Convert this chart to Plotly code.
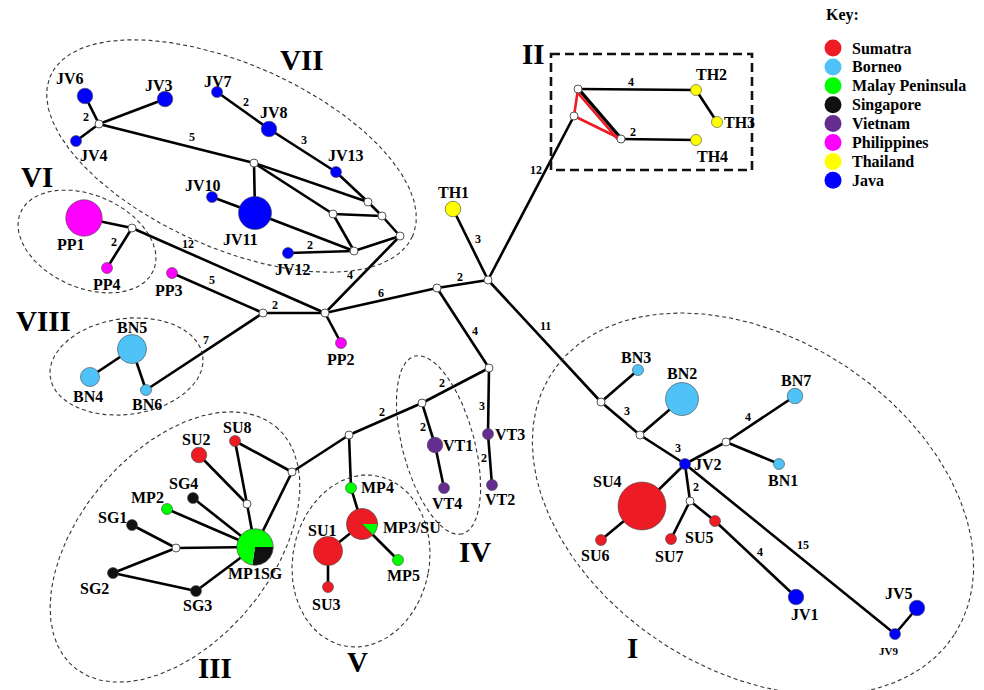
import numpy as np
import plotly.graph_objects as go

# ---------------- data ----------------
regions = ["Sumatra", "Borneo", "Malay Peninsula", "Singapore",
           "Vietnam", "Philippines", "Thailand", "Java"]
region_colors = ["#ED1C24", "#4FC3F7", "#00FF00", "#111111",
                 "#662D91", "#FF00FF", "#FFFF00", "#0000FF"]

# single-region haplotypes: name, region, frequency
hap_names = ["JV6", "JV3", "JV4", "JV7", "JV8", "JV13", "JV10", "JV11", "JV12",
             "PP1", "PP4", "PP3", "PP2", "BN5", "BN4", "BN6",
             "TH1", "TH2", "TH3", "TH4", "VT1", "VT4", "VT3", "VT2",
             "SU8", "SU2", "SG4", "MP2", "SG1", "SG2", "SG3",
             "MP4", "SU1", "SU3", "MP5",
             "BN3", "BN2", "JV2", "BN7", "BN1", "SU4", "SU6", "SU7", "SU5",
             "JV1", "JV9", "JV5"]
hap_region = ["Java", "Java", "Java", "Java", "Java", "Java", "Java", "Java", "Java",
              "Philippines", "Philippines", "Philippines", "Philippines",
              "Borneo", "Borneo", "Borneo",
              "Thailand", "Thailand", "Thailand", "Thailand",
              "Vietnam", "Vietnam", "Vietnam", "Vietnam",
              "Sumatra", "Sumatra", "Singapore", "Malay Peninsula", "Singapore",
              "Singapore", "Singapore",
              "Malay Peninsula", "Sumatra", "Sumatra", "Malay Peninsula",
              "Borneo", "Borneo", "Java", "Borneo", "Borneo", "Sumatra", "Sumatra",
              "Sumatra", "Sumatra", "Java", "Java", "Java"]
hap_count = [2, 2, 1, 1, 2, 1, 1, 9, 1,
             11, 1, 1, 1, 7, 3, 1,
             2, 1, 1, 1, 2, 1, 1, 1,
             1, 2, 1, 1, 1, 1, 1,
             1, 7, 1, 1,
             1, 9, 1, 2, 1, 19, 1, 1, 1,
             2, 1, 2]

# shared haplotypes (pie nodes): name, composition
pie_names = ["MP1SG", "MP3/SU"]
pie_regions = [["Singapore", "Malay Peninsula"], ["Malay Peninsula", "Sumatra"]]
pie_counts = [[3, 8], [1, 7]]

# median vectors
mv_names = ["A", "B", "C", "D", "E", "F", "G", "H", "I", "J", "K", "R", "L", "M",
            "N", "O", "P", "Q", "S1", "S2", "S3", "T", "U", "V", "W"]

# network edges and mutational steps ("" = single step)
edges = [("JV6", "A", "2"), ("JV4", "A", ""), ("JV3", "A", ""), ("A", "B", "5"),
         ("B", "JV11", ""), ("B", "C", ""), ("B", "D", ""), ("JV7", "JV8", "2"),
         ("JV8", "JV13", "3"), ("JV13", "C", ""), ("C", "E", ""), ("E", "F", ""),
         ("D", "E", ""), ("D", "G", ""), ("JV11", "G", ""), ("JV10", "JV11", ""),
         ("JV12", "G", "2"), ("G", "F", ""), ("F", "I", "4"), ("PP1", "H", ""),
         ("H", "PP4", "2"), ("H", "I", "12"), ("PP3", "J", "5"), ("J", "I", "2"),
         ("J", "BN6", "7"), ("BN5", "BN4", ""), ("BN5", "BN6", ""), ("I", "PP2", ""),
         ("I", "K", "6"), ("K", "R", "2"), ("K", "L", "4"), ("R", "TH1", "3"),
         ("R", "S1", "12"), ("S2", "TH2", "4"), ("TH2", "TH3", ""), ("S3", "TH4", "2"),
         ("R", "T", "11"), ("L", "M", "2"), ("M", "VT1", "2"), ("VT1", "VT4", ""),
         ("L", "VT3", "3"), ("VT3", "VT2", "2"), ("M", "N", "2"), ("N", "O", ""),
         ("N", "MP4", ""), ("MP4", "MP3/SU", ""), ("MP3/SU", "SU1", ""),
         ("SU1", "SU3", ""), ("MP3/SU", "MP5", ""), ("O", "SU8", ""),
         ("O", "MP1SG", ""), ("SU8", "P", ""), ("SU2", "P", ""), ("P", "MP1SG", ""),
         ("SG4", "MP1SG", ""), ("MP2", "MP1SG", ""), ("Q", "MP1SG", ""),
         ("SG1", "Q", ""), ("SG2", "Q", ""), ("SG2", "SG3", ""), ("SG3", "MP1SG", ""),
         ("T", "BN3", ""), ("T", "U", "3"), ("U", "BN2", ""), ("U", "JV2", "3"),
         ("JV2", "V", ""), ("V", "BN7", "4"), ("V", "BN1", ""), ("JV2", "SU4", ""),
         ("SU4", "SU6", ""), ("JV2", "W", "2"), ("W", "SU7", ""), ("W", "SU5", ""),
         ("SU5", "JV1", "4"), ("JV2", "JV9", "15"), ("JV9", "JV5", "")]
red_edges = [("S2", "S1"), ("S1", "S3"), ("S2", "S3")]
black_extra = [("S2", "S3")]

clade_names = ["VII", "VI", "VIII", "II", "III", "V", "IV", "I"]

# ---------------- layout (drawing positions, px) ----------------
pos = {
    "JV6": (85, 96), "JV3": (165, 99), "JV4": (76, 141), "JV7": (217, 92),
    "JV8": (269, 129), "JV13": (336, 172), "JV10": (212, 197), "JV11": (255, 213),
    "JV12": (288, 253), "PP1": (84, 218), "PP4": (107, 268), "PP3": (172, 273),
    "PP2": (341, 343), "BN5": (132, 349), "BN4": (90, 377), "BN6": (146, 390),
    "TH1": (453, 209), "TH2": (696, 90), "TH3": (717, 122), "TH4": (696, 140),
    "VT1": (435, 445), "VT4": (444, 488), "VT3": (488, 434), "VT2": (492, 485),
    "SU8": (235, 441), "SU2": (199, 455), "SG4": (193, 498), "MP2": (167, 509),
    "SG1": (132, 525), "SG2": (113, 573), "SG3": (196, 591), "MP4": (351, 488),
    "SU1": (328, 551), "SU3": (328, 587), "MP5": (398, 560), "BN3": (638, 370),
    "BN2": (682, 399), "JV2": (685, 464), "BN7": (795, 396), "BN1": (779, 464),
    "SU4": (642, 506), "SU6": (601, 540), "SU7": (671, 539), "SU5": (715, 521),
    "JV1": (796, 597), "JV9": (895, 634), "JV5": (917, 608),
    "MP1SG": (255, 547), "MP3/SU": (362, 524),
    "A": (99, 124), "B": (254, 163), "C": (368, 202), "D": (333, 214),
    "E": (382, 216), "F": (400, 236), "G": (354, 251), "H": (132, 228),
    "I": (325, 313), "J": (263, 313), "K": (437, 288), "R": (488, 280),
    "L": (489, 368), "M": (422, 403), "N": (349, 435), "O": (292, 472),
    "P": (247, 504), "Q": (176, 548), "S1": (574, 116), "S2": (578, 89),
    "S3": (621, 139), "T": (601, 402), "U": (640, 435), "V": (726, 442),
    "W": (690, 501),
}
label_pos = {
    "JV6": (70, 78), "JV3": (159, 85), "JV4": (94, 155), "JV7": (218, 81),
    "JV8": (274, 112), "JV13": (346, 155), "JV10": (203, 185), "JV11": (240, 239),
    "JV12": (293, 269), "PP1": (71, 244), "PP4": (107, 284), "PP3": (169, 290),
    "PP2": (341, 359), "BN5": (132, 327), "BN4": (88, 396), "BN6": (147, 404),
    "TH1": (453, 192), "TH2": (711, 74), "TH3": (739, 122), "TH4": (712, 156),
    "VT1": (458, 445), "VT4": (447, 503), "VT3": (510, 434), "VT2": (500, 499),
    "SU8": (237, 427), "SU2": (196, 439), "SG4": (183, 483), "MP2": (147, 497),
    "SG1": (112, 517), "MP1SG": (255, 573), "SG2": (94, 588), "SG3": (197, 605),
    "MP4": (377, 487), "MP3/SU": (412, 527), "SU1": (322, 530), "SU3": (326, 604),
    "MP5": (403, 575), "BN3": (636, 357), "BN2": (682, 373), "JV2": (708, 464),
    "BN7": (796, 380), "BN1": (783, 480), "SU4": (607, 481), "SU6": (595, 555),
    "SU7": (669, 556), "SU5": (699, 537), "JV1": (805, 614), "JV9": (888, 651),
    "JV5": (899, 593),
}
edge_label_pos = {
    ("JV6", "A"): (86, 117), ("A", "B"): (192, 137), ("JV7", "JV8"): (246, 102),
    ("JV8", "JV13"): (304, 140), ("JV12", "G"): (310, 245), ("H", "PP4"): (114, 242),
    ("H", "I"): (188, 244), ("PP3", "J"): (212, 280), ("F", "I"): (350, 275),
    ("I", "K"): (381, 293), ("J", "I"): (275, 305), ("J", "BN6"): (206, 340),
    ("K", "L"): (475, 331), ("R", "TH1"): (478, 239), ("K", "R"): (460, 277),
    ("R", "S1"): (536, 170), ("S2", "TH2"): (631, 82), ("S3", "TH4"): (633, 132),
    ("R", "T"): (545, 326), ("L", "M"): (442, 383), ("M", "N"): (382, 412),
    ("M", "VT1"): (423, 427), ("L", "VT3"): (482, 406), ("VT3", "VT2"): (484, 458),
    ("T", "U"): (627, 411), ("U", "JV2"): (678, 448), ("V", "BN7"): (748, 417),
    ("JV2", "W"): (696, 487), ("SU5", "JV1"): (760, 552), ("JV2", "JV9"): (803, 545),
}
# clade ellipses: centre x, centre y, semi-axis a, semi-axis b, rotation (deg)
ellipses = {
    "VII": (231.5, 156, 198, 92, 23.9), "VI": (87, 241.5, 72.5, 46.4, 23.6),
    "VIII": (126.5, 366.5, 77, 48, -7.7), "III": (175, 547, 157, 96, -50),
    "V": (361, 561, 68.3, 86.6, 10.7), "IV": (438.5, 445, 92, 36, 75),
    "I": (753, 504, 240, 166, 33),
}
clade_label_pos = {"VII": (302, 60), "VI": (37, 177), "VIII": (43, 321), "II": (533, 54),
                   "III": (215, 668), "V": (357, 662), "IV": (475, 552), "I": (632, 648)}
box_II = (551, 54, 752, 170)

SERIF = "Liberation Serif, Times New Roman, serif"
color_of = dict(zip(regions, region_colors))


def radius(n):
    return 5.5 * np.sqrt(n)


fig = go.Figure()

# edges
ex, ey = [], []
for a, b, _ in edges + [(p, q, "") for p, q in black_extra]:
    ex += [pos[a][0], pos[b][0], None]
    ey += [pos[a][1], pos[b][1], None]
rx, ry = [], []
for a, b in red_edges:
    off = (-1.8, 1.8) if (a, b) == ("S2", "S3") else (0, 0)
    rx += [pos[a][0] + off[0], pos[b][0] + off[0], None]
    ry += [pos[a][1] + off[1], pos[b][1] + off[1], None]
fig.add_trace(go.Scatter(x=ex, y=ey, mode="lines", line=dict(color="black", width=2.6),
                         hoverinfo="skip"))
fig.add_trace(go.Scatter(x=rx, y=ry, mode="lines", line=dict(color="#ED1C24", width=2.6),
                         hoverinfo="skip"))
# re-draw black S2-S3 on top of red
fig.add_trace(go.Scatter(x=[pos["S2"][0] + 0.8, pos["S3"][0] + 0.8],
                         y=[pos["S2"][1] - 0.5, pos["S3"][1] - 0.5], mode="lines",
                         line=dict(color="black", width=2.2), hoverinfo="skip"))

# ellipses
t = np.linspace(0, 2 * np.pi, 400)
for name, (cx, cy, a, b, th) in ellipses.items():
    r = np.radians(th)
    xs = cx + a * np.cos(t) * np.cos(r) - b * np.sin(t) * np.sin(r)
    ys = cy + a * np.cos(t) * np.sin(r) + b * np.sin(t) * np.cos(r)
    fig.add_trace(go.Scatter(x=xs, y=ys, mode="lines",
                             line=dict(color="#333333", width=1.1, dash="4px,3px"),
                             hoverinfo="skip"))

# box II
fig.add_shape(type="rect", x0=box_II[0], y0=box_II[1], x1=box_II[2], y1=box_II[3],
              line=dict(color="#111111", width=2.6, dash="9px,5px"))

# median vectors
fig.add_trace(go.Scatter(x=[pos[m][0] for m in mv_names], y=[pos[m][1] for m in mv_names],
                         mode="markers",
                         marker=dict(size=8, color="white", opacity=1,
                                     line=dict(color="#555555", width=1)),
                         hoverinfo="skip"))

# haplotype circles
fig.add_trace(go.Scatter(
    x=[pos[h][0] for h in hap_names], y=[pos[h][1] for h in hap_names], mode="markers",
    marker=dict(size=[2 * radius(n) for n in hap_count],
                color=[color_of[r] for r in hap_region], opacity=1,
                line=dict(color="#444444", width=0.6)),
    text=hap_names, hoverinfo="text"))

# pie haplotypes
for name, regs, cnts in zip(pie_names, pie_regions, pie_counts):
    cx, cy = pos[name]
    R = radius(sum(cnts))
    start = 0.0
    tot = float(sum(cnts))
    for reg, c in zip(regs, cnts):
        span = 2 * np.pi * c / tot
        ang = np.linspace(start, start + span, 80)
        xs = np.concatenate([[cx], cx + R * np.cos(ang), [cx]])
        ys = np.concatenate([[cy], cy + R * np.sin(ang), [cy]])
        fig.add_trace(go.Scatter(x=xs, y=ys, mode="lines", fill="toself",
                                 fillcolor=color_of[reg], line=dict(width=0, color=color_of[reg]),
                                 hoverinfo="skip"))
        start += span
    ang = np.linspace(0, 2 * np.pi, 160)
    fig.add_trace(go.Scatter(x=cx + R * np.cos(ang), y=cy + R * np.sin(ang), mode="lines",
                             line=dict(color="#444444", width=0.7), hoverinfo="skip"))

# legend (key)
key_x, key_y0, key_dy = 833, 48, 18.9
fig.add_trace(go.Scatter(x=[key_x] * len(regions),
                         y=[key_y0 + i * key_dy for i in range(len(regions))],
                         mode="markers", marker=dict(size=17, color=region_colors, opacity=1,
                                                     line=dict(width=0)),
                         hoverinfo="skip"))

ann = []


def add_text(x, y, s, size, anchor="center", weight="bold"):
    ann.append(dict(x=x, y=y, text=s, showarrow=False, xanchor=anchor, yanchor="middle",
                    font=dict(family=SERIF, size=size, color="black", weight=weight)))


add_text(842, 15, "Key:", 16)
for i, r in enumerate(regions):
    add_text(850, key_y0 + i * key_dy, r, 16, anchor="left")
for h, (x, y) in label_pos.items():
    add_text(x, y, h, 11 if h == "JV9" else 16)
for (a, b), (x, y) in edge_label_pos.items():
    lab = [e[2] for e in edges if e[0] == a and e[1] == b][0]
    add_text(x, y, lab, 12)
for c in clade_names:
    x, y = clade_label_pos[c]
    add_text(x, y, c, 29)

fig.update_layout(
    width=984, height=690, margin=dict(l=0, r=0, t=0, b=0),
    paper_bgcolor="white", plot_bgcolor="white", showlegend=False,
    xaxis=dict(range=[0, 984], visible=False, fixedrange=True),
    yaxis=dict(range=[690, 0], visible=False, fixedrange=True),
    annotations=ann,
)

fig.write_html("out.html", config={"displayModeBar": False},
               post_script="document.body.style.margin='0px';")
